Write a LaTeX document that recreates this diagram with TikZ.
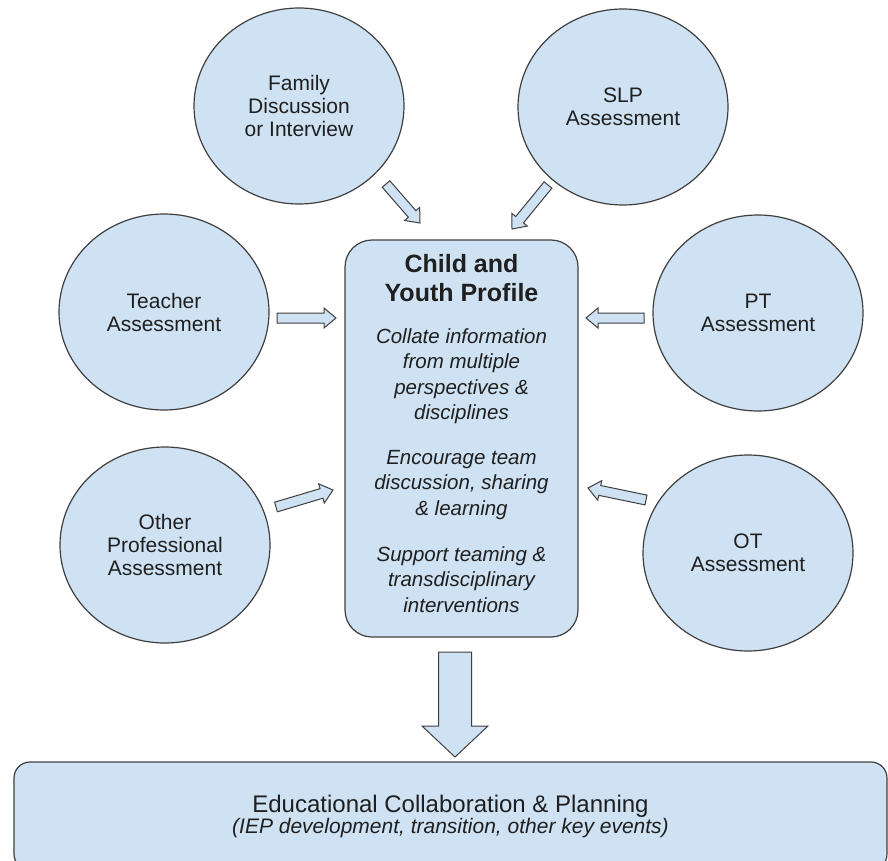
\documentclass[tikz,border=0pt]{standalone}
\usepackage{fontspec}
\setmainfont{Liberation Sans}
\usetikzlibrary{calc}
\usetikzlibrary{positioning}
\usetikzlibrary{shapes.geometric}

\definecolor{boxblue}{HTML}{CFE2F3}
\definecolor{edgegray}{HTML}{3F3F3F}
\definecolor{textgray}{HTML}{1F1F1F}

\newcommand{\profiletitle}{\fontsize{25}{30}\selectfont\upshape\bfseries}
\newcommand{\profilenote}{\fontsize{20.5}{25.3}\selectfont\itshape}
\newcommand{\planhead}{\fontsize{24}{26}\selectfont}
\newcommand{\plannote}{\fontsize{21}{22}\selectfont\itshape}

% hollow block arrow: tail, tip, shaft half width, head half width, head length
\newcommand{\fatarrow}[5]{%
	\coordinate (#2-base) at ($(#2)!#5!(#1)$);
	\draw[block arrow] ($(#1)!#3!90:(#2)$) -- ($(#2-base)!#3!90:(#2)$)
	-- ($(#2-base)!#4!90:(#2)$) -- (#2) -- ($(#2-base)!#4!-90:(#2)$)
	-- ($(#2-base)!#3!-90:(#2)$) -- ($(#1)!#3!-90:(#2)$) -- cycle;}

\begin{document}
\begin{tikzpicture}
		[
		x=1pt, y=-1pt,
		font=\fontsize{21}{23}\selectfont
		]
		
		% Styles: assessment circles, rounded boxes, block arrows
		\tikzstyle{source}=[ellipse,draw=edgegray,line width=1.2pt,fill=boxblue,align=center,text=textgray,inner sep=0,minimum width=210pt,minimum height=196pt];
		\tikzstyle{panel}=[rectangle,draw=edgegray,line width=1.2pt,fill=boxblue,align=center,text=textgray];
		\tikzstyle{block arrow}=[draw=edgegray,line width=1pt,fill=boxblue,line join=miter];
		
		\useasboundingbox (0,0) rectangle (888,861);
		
		% The profile in the middle
		\node(profile)[panel,rounded corners=27pt,minimum width=233pt,minimum height=397pt] at (461.5,438.5) {};
		\node(profile text)[align=center,text=textgray,font=\profilenote] at (461.5,433.5) {\profiletitle Child and\\[3pt]\profiletitle Youth Profile\\[17pt]
			\profilenote Collate information\\\profilenote from multiple\\\profilenote perspectives \&\\\profilenote disciplines\\[20pt]
			\profilenote Encourage team\\\profilenote discussion, sharing\\\profilenote \& learning\\[21pt]
			\profilenote Support teaming \&\\\profilenote transdisciplinary\\\profilenote interventions};
		
		% Assessments around it
		\node(family)[source] at (299,106) {Family\\Discussion\\or Interview};
		\node(slp)[source] at (623,107) {SLP\\Assessment};
		\node(teacher)[source] at (164,312) {Teacher\\Assessment};
		\node(pt)[source] at (758,313) {PT\\Assessment};
		\node(other)[source] at (165,545) {Other\\Professional\\Assessment};
		\node(ot)[source] at (748,553) {OT\\Assessment};
		
		% Planning box at the bottom
		\node(plan)[panel,rounded corners=16pt,minimum width=873pt,minimum height=108pt] at (450.5,816) {\planhead Educational Collaboration \& Planning\\[-2pt]\plannote (IEP development, transition, other key events)};
		
		% Arrow ends
		\coordinate(family-tail) at (386,184);
		\coordinate(family-tip) at (420,223);
		\coordinate(slp-tail) at (548,185);
		\coordinate(slp-tip) at (512,229);
		\coordinate(teacher-tail) at (277,318);
		\coordinate(teacher-tip) at (336,318);
		\coordinate(pt-tail) at (644,318);
		\coordinate(pt-tip) at (586,318);
		\coordinate(other-tail) at (276,507);
		\coordinate(other-tip) at (333,490);
		\coordinate(ot-tail) at (646,500);
		\coordinate(ot-tip) at (588,488);
		\coordinate(plan-tail) at (455,652);
		\coordinate(plan-tip) at (455,757);
		
		% Arrows into the profile
		\foreach \x in {family, slp, teacher, pt, other, ot}
		\fatarrow{\x-tail}{\x-tip}{5pt}{10pt}{12pt};
		
		% Arrow down to the planning
		\fatarrow{plan-tail}{plan-tip}{16.5pt}{33pt}{31pt};
		\end{tikzpicture}
\end{document}
